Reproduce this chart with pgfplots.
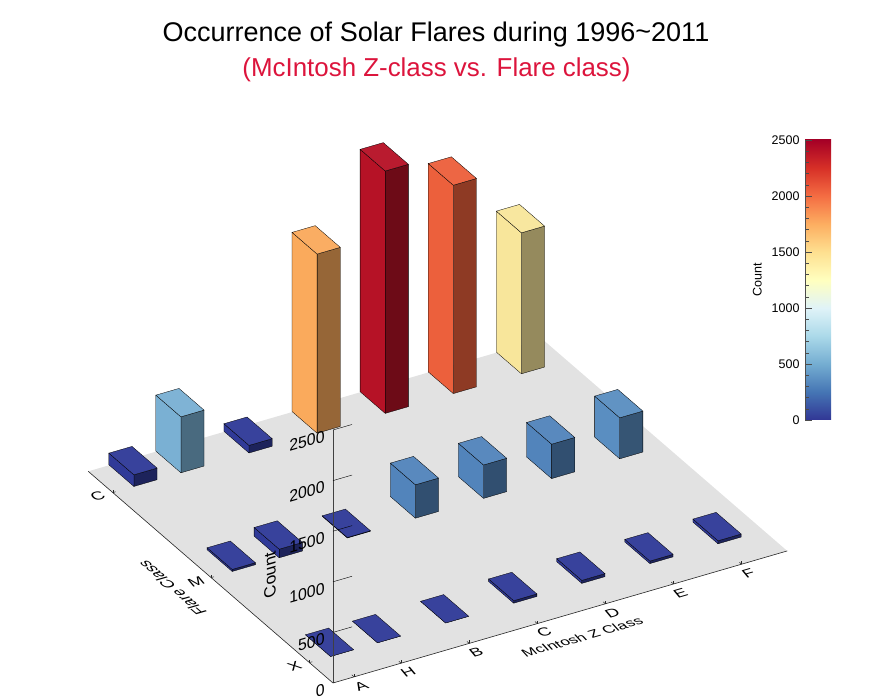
\documentclass[border=0pt]{standalone}
\usepackage{fontspec}
\setmainfont{Liberation Sans}
\usepackage{pgfplots}
\pgfplotsset{compat=1.18}

\definecolor{crim}{RGB}{220,20,60}
\definecolor{floorgray}{RGB}{226,226,226}
\definecolor{cLow}{RGB}{48,58,152}
\definecolor{cMid}{RGB}{82,132,187}
\definecolor{cMidB}{RGB}{90,142,193}
\definecolor{cSky}{RGB}{122,176,211}
\definecolor{cOrange}{RGB}{250,170,92}
\definecolor{cRed}{RGB}{182,18,38}
\definecolor{cTomato}{RGB}{236,96,60}
\definecolor{cYellow}{RGB}{248,230,155}

\pgfdeclareverticalshading{rdylbu}{100bp}{
  rgb(0bp)=(0.192,0.212,0.584);
  rgb(25bp)=(0.192,0.212,0.584);
  rgb(30bp)=(0.271,0.459,0.706);
  rgb(35bp)=(0.455,0.678,0.820);
  rgb(40bp)=(0.671,0.851,0.914);
  rgb(45bp)=(0.878,0.953,0.973);
  rgb(50bp)=(1,1,0.749);
  rgb(55bp)=(0.996,0.878,0.565);
  rgb(60bp)=(0.992,0.682,0.380);
  rgb(65bp)=(0.957,0.427,0.263);
  rgb(70bp)=(0.843,0.188,0.153);
  rgb(75bp)=(0.647,0,0.149);
  rgb(100bp)=(0.647,0,0.149)}

% x0 x1 y0 y1 count colour
\newcommand{\cuboid}[6]{
  \addplot3[forget plot,mark=none,draw=black,line width=0.3pt,fill=#6!60!black]
    coordinates {(#1,#3,0) (#2,#3,0) (#2,#3,#5) (#1,#3,#5) (#1,#3,0)};
  \addplot3[forget plot,mark=none,draw=black,line width=0.3pt,fill=#6]
    coordinates {(#1,#3,0) (#1,#4,0) (#1,#4,#5) (#1,#3,#5) (#1,#3,0)};
  \addplot3[forget plot,mark=none,draw=black,line width=0.3pt,fill=#6!96!white]
    coordinates {(#1,#3,#5) (#2,#3,#5) (#2,#4,#5) (#1,#4,#5) (#1,#3,#5)};
}
% count tick on the vertical axis, its label in the plane of the axis
\newcommand{\counttick}[1]{
  \addplot3[forget plot,mark=none,black,line width=0.4pt] coordinates {(0,0,#1) (0.28,0,#1)};
  \node[anchor=east,xshift=-5pt,yshift=-5pt,cm={0.96,0.28,0,1,(0,0)},
    font=\fontsize{16.5}{16.5}\selectfont] at (axis cs:0,0,#1) {#1};
}

\begin{document}
\begin{tikzpicture}
\begin{axis}[
  at={(0pt,0pt)},anchor=origin,
  x={(68.1pt,19.8pt)},y={(-98.3pt,85pt)},z={(0pt,0.1012pt)},
  xmin=0,xmax=6.67,ymin=0,ymax=2.49,zmin=0,zmax=2500,
  axis x line*=left,axis y line*=left,axis z line=none,
  axis on top,
  clip=false,
  xtick={0.31,1,2,3,4,5,6},xticklabels={A,H,B,C,D,E,F},
  ytick={0.24,1.24,2.24},yticklabels={X,M,C},
  major tick length=3pt,
  tick align=inside,
  axis line style={black!85,line width=0.6pt},
  tick style={black!85,line width=0.5pt},
  /pgf/number format/assume math mode=true,
  tick label style={font=\fontsize{17.5}{17.5}\selectfont},
  xticklabel style={anchor=center,xshift=7pt,yshift=-9pt,cm={0.96,0.28,-0.5,0.6,(0,0)}},
  yticklabel style={anchor=center,xshift=-15pt,yshift=-4pt,cm={0.96,0.28,-0.5,0.6,(0,0)}},
]
% floor
\addplot3[forget plot,mark=none,draw=none,fill=floorgray]
  coordinates {(0,0,0) (6.67,0,0) (6.67,2.49,0) (0,2.49,0) (0,0,0)};

% flare class C (back row)
\cuboid{6.00}{6.34}{2.24}{2.495}{1393}{cYellow}
\cuboid{5.00}{5.34}{2.24}{2.495}{2059}{cTomato}
\cuboid{4.00}{4.34}{2.24}{2.495}{2395}{cRed}
\cuboid{3.00}{3.34}{2.24}{2.495}{1770}{cOrange}
\cuboid{2.00}{2.34}{2.24}{2.495}{75}{cLow}
\cuboid{1.00}{1.34}{2.24}{2.495}{553}{cSky}
\cuboid{0.31}{0.65}{2.24}{2.495}{115}{cLow}
% flare class M
\cuboid{6.00}{6.34}{1.24}{1.495}{405}{cMidB}
\cuboid{5.00}{5.34}{1.24}{1.495}{340}{cMid}
\cuboid{4.00}{4.34}{1.24}{1.495}{330}{cMid}
\cuboid{3.00}{3.34}{1.24}{1.495}{330}{cMid}
\cuboid{2.00}{2.34}{1.24}{1.495}{5}{cLow}
\cuboid{1.00}{1.34}{1.24}{1.495}{85}{cLow}
\cuboid{0.31}{0.65}{1.24}{1.495}{20}{cLow}
% flare class X
\cuboid{6.00}{6.34}{0.24}{0.495}{30}{cLow}
\cuboid{5.00}{5.34}{0.24}{0.495}{25}{cLow}
\cuboid{4.00}{4.34}{0.24}{0.495}{30}{cLow}
\cuboid{3.00}{3.34}{0.24}{0.495}{25}{cLow}
\cuboid{2.00}{2.34}{0.24}{0.495}{0}{cLow}
\cuboid{1.00}{1.34}{0.24}{0.495}{0}{cLow}
\cuboid{0.31}{0.65}{0.24}{0.495}{0}{cLow}

% vertical count axis at the near corner, on top of the bars
\addplot3[forget plot,mark=none,black!75,line width=0.6pt] coordinates {(0,0,0) (0,0,2500)};
\node[anchor=east,xshift=-5pt,yshift=-5pt,cm={0.96,0.28,0,1,(0,0)},
  font=\fontsize{16.5}{16.5}\selectfont] at (axis cs:0,0,0) {0};
\counttick{500}
\counttick{1000}
\counttick{1500}
\counttick{2000}
\counttick{2500}
\end{axis}

% labels lying in the planes of the box
\node[cm={0.96,0.28,-0.55,0.6,(0,0)},font=\fontsize{16}{16}\selectfont] at (249pt,46pt) {McIntosh Z Class};
\node[cm={-0.75,0.65,-0.96,-0.28,(0,0)},font=\fontsize{16}{16}\selectfont] at (-161pt,95pt) {Flare Class};
\node[cm={0,1,-0.96,-0.28,(0,0)},font=\fontsize{17}{17}\selectfont] at (-63pt,108pt) {Count};

% titles
\node[font=\fontsize{27}{27}\selectfont] at (103pt,648.5pt) {Occurrence of Solar Flares during 1996\raisebox{0.1ex}{\textasciitilde}2011};
\node[font=\fontsize{25.9}{25.9}\selectfont,text=crim] at (103.5pt,613pt) {(McIntosh Z-class vs. Flare class)};

% colour bar
\begin{axis}[
  at={(472pt,263pt)},anchor=south west,
  scale only axis,width=26pt,height=280pt,
  xmin=0,xmax=1,ymin=0,ymax=2500,
  axis y line*=left,axis x line=none,
  ytick={0,500,1000,1500,2000,2500},
  minor y tick num=4,
  tick align=inside,
  major tick length=7pt,minor tick length=3.5pt,
  axis on top,
  axis line style={black!70},
  tick style={black!70},
  /pgf/number format/assume math mode=true,
  /pgf/number format/1000 sep={},
  yticklabel style={xshift=-2pt},
  tick label style={font=\fontsize{12.5}{12.5}\selectfont},
  ylabel={Count},
  ylabel style={font=\fontsize{12.5}{12.5}\selectfont,yshift=3pt},
]
\addplot[forget plot,mark=none,draw=none,shading=rdylbu]
  coordinates {(0,0) (1,0) (1,2500) (0,2500) (0,0)};
\end{axis}

\pgfresetboundingbox
\path[use as bounding box] (-333pt,-17pt) rectangle (542pt,683pt);
\end{tikzpicture}
\end{document}
